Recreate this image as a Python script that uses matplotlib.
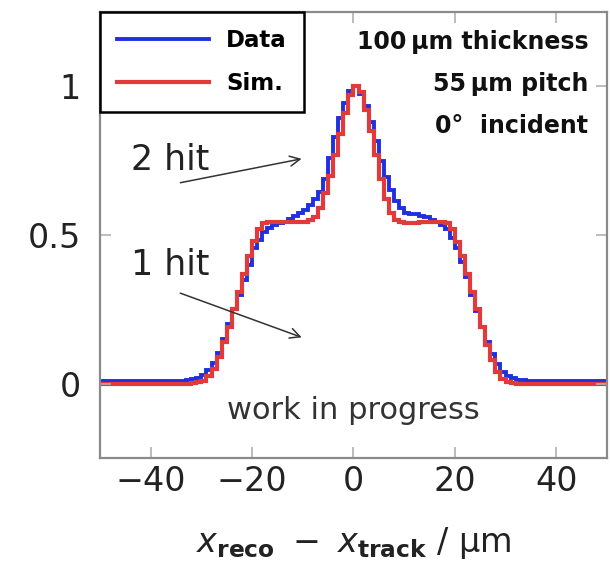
import numpy as np
import matplotlib
matplotlib.use('Agg')
import matplotlib.pyplot as plt

# residuals x_reco - x_track, 1 um bins from -50 to 50
edges = np.arange(-50, 51, 1)

data_vals = [
    0.010, 0.010, 0.009, 0.010, 0.011, 0.010, 0.009, 0.010, 0.010, 0.011,   # -50..-41
    0.010, 0.010, 0.011, 0.010, 0.010, 0.011, 0.011, 0.012, 0.015, 0.020,   # -40..-31
    0.030, 0.045, 0.070, 0.105, 0.150, 0.200, 0.250, 0.300, 0.350, 0.400,   # -30..-21
    0.455, 0.485, 0.510, 0.525, 0.535, 0.540, 0.545, 0.555, 0.565, 0.575,   # -20..-11
    0.585, 0.600, 0.620, 0.645, 0.690, 0.760, 0.830, 0.895, 0.945, 0.985,   # -10..-1
    1.000, 0.975, 0.935, 0.880, 0.815, 0.750, 0.695, 0.650, 0.615, 0.590,   # 0..9
    0.575, 0.570, 0.570, 0.565, 0.560, 0.550, 0.545, 0.535, 0.520, 0.490,   # 10..19
    0.455, 0.410, 0.360, 0.300, 0.245, 0.190, 0.140, 0.100, 0.065, 0.040,   # 20..29
    0.025, 0.018, 0.014, 0.012, 0.011, 0.010, 0.010, 0.011, 0.010, 0.010,   # 30..39
    0.010, 0.009, 0.010, 0.010, 0.011, 0.010, 0.010, 0.009, 0.010, 0.010,   # 40..49
]

sim_vals = [
    0.000, 0.000, 0.000, 0.000, 0.000, 0.000, 0.000, 0.000, 0.000, 0.000,   # -50..-41
    0.000, 0.000, 0.000, 0.000, 0.000, 0.000, 0.000, 0.001, 0.002, 0.005,   # -40..-31
    0.010, 0.025, 0.050, 0.090, 0.140, 0.190, 0.250, 0.310, 0.370, 0.430,   # -30..-21
    0.480, 0.520, 0.540, 0.545, 0.545, 0.545, 0.545, 0.545, 0.545, 0.545,   # -20..-11
    0.545, 0.550, 0.560, 0.590, 0.640, 0.700, 0.770, 0.840, 0.910, 0.970,   # -10..-1
    1.000, 0.980, 0.920, 0.850, 0.770, 0.690, 0.620, 0.575, 0.550, 0.545,   # 0..9
    0.540, 0.540, 0.540, 0.545, 0.545, 0.545, 0.545, 0.545, 0.540, 0.520,   # 10..19
    0.475, 0.430, 0.370, 0.310, 0.250, 0.190, 0.130, 0.080, 0.040, 0.015,   # 20..29
    0.005, 0.002, 0.001, 0.000, 0.000, 0.000, 0.000, 0.000, 0.000, 0.000,   # 30..39
    0.000, 0.000, 0.000, 0.000, 0.000, 0.000, 0.000, 0.000, 0.000, 0.000,   # 40..49
]

xticks = [-40, -20, 0, 20, 40]
yticks = [0, 0.5, 1]
ytick_labels = ['0', '0.5', '1']
info_lines = ['100\u2009μm thickness', '55\u2009μm pitch', '0°  incident']

blue = '#2030e0'
red = '#e03a3a'
grey = '#8a8a8a'

fig = plt.figure(figsize=(6.1, 5.65), dpi=100)
ax = fig.add_axes([0.164, 0.189, 0.831, 0.790])

ax.stairs(data_vals, edges, color=blue, lw=2.8, label='Data')
ax.stairs(sim_vals, edges, color=red, lw=3.0, label='Sim.')

ax.set_xlim(-50, 50)
ax.set_ylim(-0.25, 1.25)
ax.set_xticks(xticks)
ax.set_xticklabels(['\u2212' + str(-t) if t < 0 else str(t) for t in xticks])
ax.set_yticks(yticks)
ax.set_yticklabels(ytick_labels)
ax.tick_params(direction='in', top=True, right=True, length=8, width=1.2,
               color='#b0b0b0', labelsize=24, labelcolor='#222222')
ax.tick_params(axis='x', pad=5)
ax.tick_params(axis='y', pad=14)
for s in ax.spines.values():
    s.set_color(grey)
    s.set_linewidth(1.6)

ax.set_xlabel(r'$x_{\mathbf{reco}}\ -\ x_{\mathbf{track}}$ / μm', fontsize=24,
              color='#222222', labelpad=19)

# hit-multiplicity annotations
ax.text(-43.8, 0.752, '2 hit', fontsize=25, va='center', color='#222222')
ax.annotate('', xy=(-9.7, 0.758), xytext=(-34.7, 0.674),
            arrowprops=dict(arrowstyle='->', color='#333333', lw=1.1,
                            mutation_scale=18))
ax.text(-43.8, 0.399, '1 hit', fontsize=25, va='center', color='#222222')
ax.annotate('', xy=(-9.7, 0.153), xytext=(-34.7, 0.308),
            arrowprops=dict(arrowstyle='->', color='#333333', lw=1.1,
                            mutation_scale=18))

ax.text(0, -0.089, 'work in progress', fontsize=22, ha='center', va='center',
        color='#333333')

for i, line in enumerate(info_lines):
    ax.text(46.3, 1.148 - i * 0.140, line, fontsize=17, fontweight='bold',
            ha='right', va='center', color='#111111')

leg = ax.legend(loc='upper left', bbox_to_anchor=(0, 1), borderaxespad=0,
                fancybox=False, framealpha=1, edgecolor='black',
                handlelength=4.0, labelspacing=0.85, borderpad=0.75,
                handletextpad=0.75, prop={'weight': 'bold', 'size': 16.5})
leg.get_frame().set_linewidth(1.8)

fig.savefig('out.png', dpi=100)
